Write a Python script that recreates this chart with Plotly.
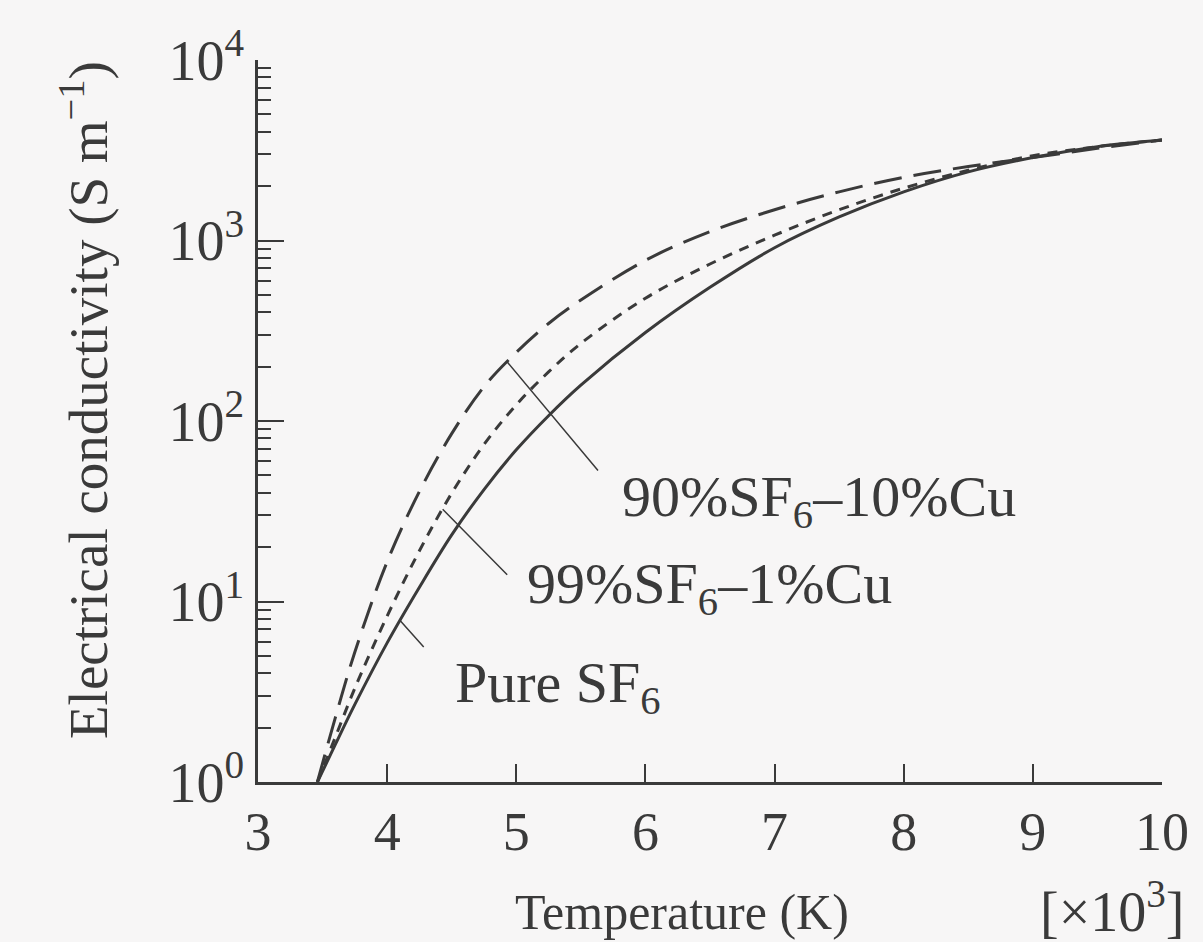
import numpy as np
import plotly.graph_objects as go

# Temperature (x10^3 K)
temperature = [3.46, 3.6, 3.75, 4.0, 4.25, 4.5, 4.75, 5.0, 5.25, 5.5, 6.0, 6.5, 7.0, 7.5, 8.0, 8.5, 9.0, 9.5, 10.0]
# Electrical conductivity (S/m)
pure_sf6 = [1.0, 1.62, 2.69, 5.9, 12.0, 23.4, 41.7, 69.2, 107, 158, 309, 550, 912, 1350, 1860, 2400, 2880, 3310, 3600]
sf6_99_cu_1 = [1.0, 1.78, 3.31, 8.3, 19.1, 39.8, 74.1, 123, 187, 269, 479, 741, 1070, 1480, 1950, 2450, 2950, 3310, 3600]
sf6_90_cu_10 = [1.0, 2.29, 5.25, 16.6, 40.7, 85.1, 155, 240, 347, 468, 776, 1120, 1480, 1860, 2240, 2570, 2880, 3240, 3600]

x_ticks = [3, 4, 5, 6, 7, 8, 9, 10]
y_ticks = [1, 10, 100, 1000, 10000]
y_ticktext = ["10<sup>0</sup>", "10<sup>1</sup>", "10<sup>2</sup>", "10<sup>3</sup>", "10<sup>4</sup>"]
y_minor = [m * 10 ** d for d in range(4) for m in range(2, 10)]

FONT = "Liberation Serif, Times New Roman, serif"
INK = "#3a3a3a"
BG = "#f7f6f6"

fig = go.Figure()
fig.add_trace(go.Scatter(x=temperature, y=pure_sf6, mode="lines", line_shape="spline",
                         line=dict(color=INK, width=3), name="Pure SF6"))
fig.add_trace(go.Scatter(x=temperature, y=sf6_99_cu_1, mode="lines", line_shape="spline",
                         line=dict(color=INK, width=3, dash="10px,8px"), name="99%SF6-1%Cu"))
fig.add_trace(go.Scatter(x=temperature, y=sf6_90_cu_10, mode="lines", line_shape="spline",
                         line=dict(color=INK, width=3, dash="28px,12px"), name="90%SF6-10%Cu"))


def curve_log(series, t):
    return float(np.interp(t, temperature, np.log10(series)))


# leader lines (arrow heads on curves)
leaders = [
    (sf6_90_cu_10, 4.93, 92, 110),
    (sf6_99_cu_1, 4.43, 66, 67),
    (pure_sf6, 4.10, 25, 28),
]
for series, t, ax, ay in leaders:
    fig.add_annotation(x=t, y=curve_log(series, t), xref="x", yref="y", text="",
                       showarrow=True, arrowhead=0, arrowwidth=1.5, arrowcolor=INK,
                       ax=ax, ay=ay, standoff=0, startstandoff=0)

labels = [
    ("90%SF<sub>6</sub>–10%Cu", 3 + (620 - 258) / 129.1, 1.56),
    ("99%SF<sub>6</sub>–1%Cu", 3 + (525 - 258) / 129.1, 1.075),
    ("Pure SF<sub>6</sub>", 3 + (453 - 258) / 129.1, 0.53),
]
for txt, x, y in labels:
    fig.add_annotation(x=x, y=y, xref="x", yref="y", text=txt, showarrow=False,
                       xanchor="left", yanchor="middle",
                       font=dict(family=FONT, size=58, color=INK))

# axis titles
fig.add_annotation(x=(682 - 258) / 904, y=(782 - 912) / 722, xref="paper", yref="paper",
                   text="Temperature (K)", showarrow=False, xanchor="center", yanchor="middle",
                   font=dict(family=FONT, size=50, color=INK))
fig.add_annotation(x=(1112 - 258) / 904, y=(782 - 908) / 722, xref="paper", yref="paper",
                   text="[×10<sup>3</sup>]", showarrow=False, xanchor="center", yanchor="middle",
                   font=dict(family=FONT, size=56, color=INK))
fig.add_annotation(x=(85 - 258) / 904, y=(782 - 400) / 722, xref="paper", yref="paper",
                   text="Electrical conductivity (S m<sup>−1</sup>)", showarrow=False,
                   textangle=-90, xanchor="center", yanchor="middle",
                   font=dict(family=FONT, size=55, color=INK))

fig.update_layout(
    width=1203, height=942,
    margin=dict(l=258, r=41, t=60, b=160),
    paper_bgcolor=BG, plot_bgcolor=BG,
    showlegend=False,
    font=dict(family=FONT, size=48, color=INK),
)
fig.update_xaxes(range=[3, 10], tickvals=x_ticks, ticktext=[str(v) for v in x_ticks],
                 ticks="inside", ticklen=18, tickwidth=2, tickcolor=INK,
                 showline=True, linewidth=2.5, linecolor=INK, showgrid=False, zeroline=False,
                 tickfont=dict(family=FONT, size=54, color=INK))
fig.update_yaxes(type="log", range=[0, 4], tickvals=y_ticks, ticktext=y_ticktext,
                 ticks="inside", ticklen=26, tickwidth=2, tickcolor=INK,
                 minor=dict(tickmode="array", tickvals=y_minor, ticks="inside", ticklen=13,
                            tickwidth=2, tickcolor=INK, showgrid=False),
                 showline=True, linewidth=2.5, linecolor=INK, showgrid=False, zeroline=False,
                 tickfont=dict(family=FONT, size=56, color=INK))

fig.write_html("out.html")
